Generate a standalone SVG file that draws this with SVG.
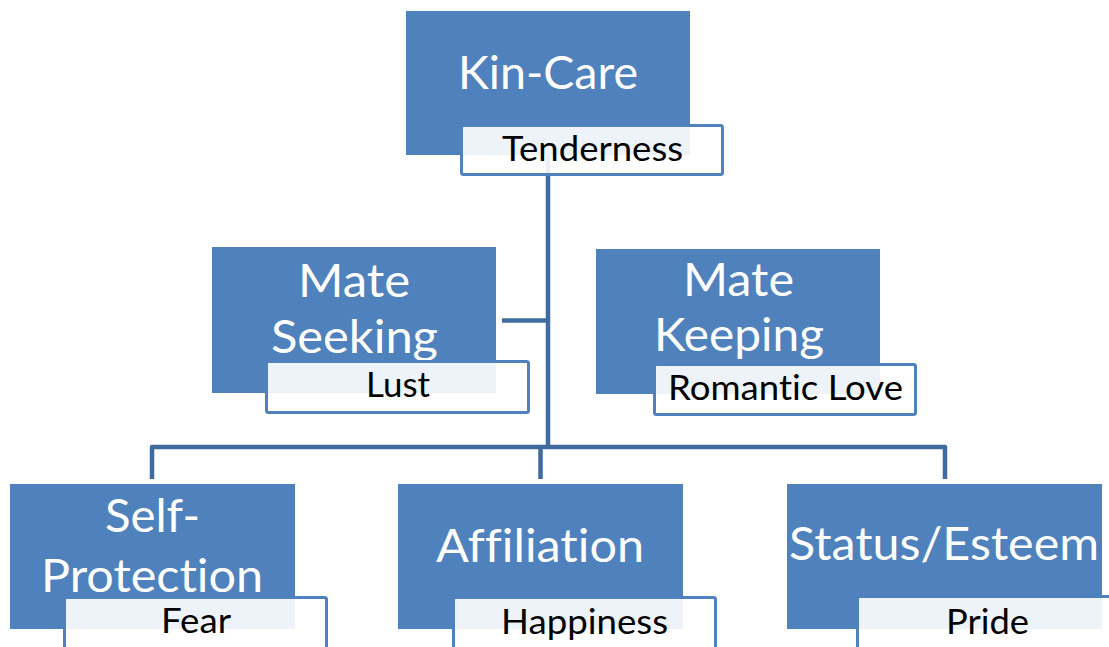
<svg xmlns="http://www.w3.org/2000/svg" width="1109" height="647" viewBox="0 0 1109 647">
<style>
.main{fill:#4F81BD}
.sub{fill:#FFFFFF;fill-opacity:0.9;stroke:#4F81BD;stroke-width:3}
.conn{fill:none;stroke:#3F6B9F;stroke-width:4.5;stroke-linejoin:round}
.mt{font-family:Lato,"Open Sans","Liberation Sans",sans-serif;font-size:46px;fill:#FFFFFF;text-anchor:middle;font-variant-ligatures:none;font-feature-settings:"liga" 0,"dlig" 0}
.st{font-family:Lato,"Open Sans","Liberation Sans",sans-serif;font-size:34px;fill:#000000;text-anchor:middle;font-variant-ligatures:none;font-feature-settings:"liga" 0,"dlig" 0}
</style>
<rect width="1109" height="647" fill="#FFFFFF"/>
<g id="connectors">
<path class="conn" d="M548 155 V447"/>
<path class="conn" d="M502 320.5 H548"/>
<path class="conn" d="M152 479 V447 H945 V479"/>
<path class="conn" d="M540.5 447 V479"/>
</g>
<g id="kin-care">
<rect class="main" x="406" y="11" width="284" height="144"/>
<text class="mt" x="548" y="89" textLength="180" lengthAdjust="spacingAndGlyphs">Kin-Care</text>
<rect class="sub" x="461.5" y="125.5" width="261" height="49" rx="2"/>
<text class="st" x="592.5" y="161" textLength="181" lengthAdjust="spacingAndGlyphs">Tenderness</text>
</g>
<g id="mate-seeking">
<rect class="main" x="212" y="247" width="284" height="146"/>
<text class="mt" x="354" y="297" textLength="112" lengthAdjust="spacingAndGlyphs">Mate</text>
<text class="mt" x="354.5" y="353" textLength="167" lengthAdjust="spacingAndGlyphs">Seeking</text>
<rect class="sub" x="266.5" y="361.5" width="262" height="51" rx="2"/>
<text class="st" x="398" y="397" textLength="64" lengthAdjust="spacingAndGlyphs">Lust</text>
</g>
<g id="mate-keeping">
<rect class="main" x="596" y="249" width="284" height="145"/>
<text class="mt" x="738.5" y="296" textLength="111" lengthAdjust="spacingAndGlyphs">Mate</text>
<text class="mt" x="739" y="351" textLength="170" lengthAdjust="spacingAndGlyphs">Keeping</text>
<rect class="sub" x="654.5" y="364.5" width="261" height="50" rx="2"/>
<text class="st" x="785.5" y="400" textLength="235" lengthAdjust="spacingAndGlyphs">Romantic Love</text>
</g>
<g id="self-protection">
<rect class="main" x="10" y="484" width="285" height="145"/>
<text class="mt" x="152.5" y="532" textLength="95" lengthAdjust="spacingAndGlyphs">Self-</text>
<text class="mt" x="152" y="592" textLength="222" lengthAdjust="spacingAndGlyphs">Protection</text>
<rect class="sub" x="64.5" y="597.5" width="262" height="52" rx="2"/>
<text class="st" x="196" y="633" textLength="70" lengthAdjust="spacingAndGlyphs">Fear</text>
</g>
<g id="affiliation">
<rect class="main" x="398" y="484" width="285" height="145"/>
<text class="mt" x="540" y="562" textLength="208" lengthAdjust="spacingAndGlyphs">Affiliation</text>
<rect class="sub" x="453.5" y="597.5" width="262" height="52" rx="2"/>
<text class="st" x="584.5" y="634" textLength="167" lengthAdjust="spacingAndGlyphs">Happiness</text>
</g>
<g id="status-esteem">
<rect class="main" x="787" y="484" width="315" height="145"/>
<text class="mt" x="944" y="560" textLength="310" lengthAdjust="spacingAndGlyphs">Status/Esteem</text>
<rect class="sub" x="857.5" y="596.5" width="270" height="52" rx="2"/>
<text class="st" x="987.5" y="634" textLength="83" lengthAdjust="spacingAndGlyphs">Pride</text>
</g>
</svg>
